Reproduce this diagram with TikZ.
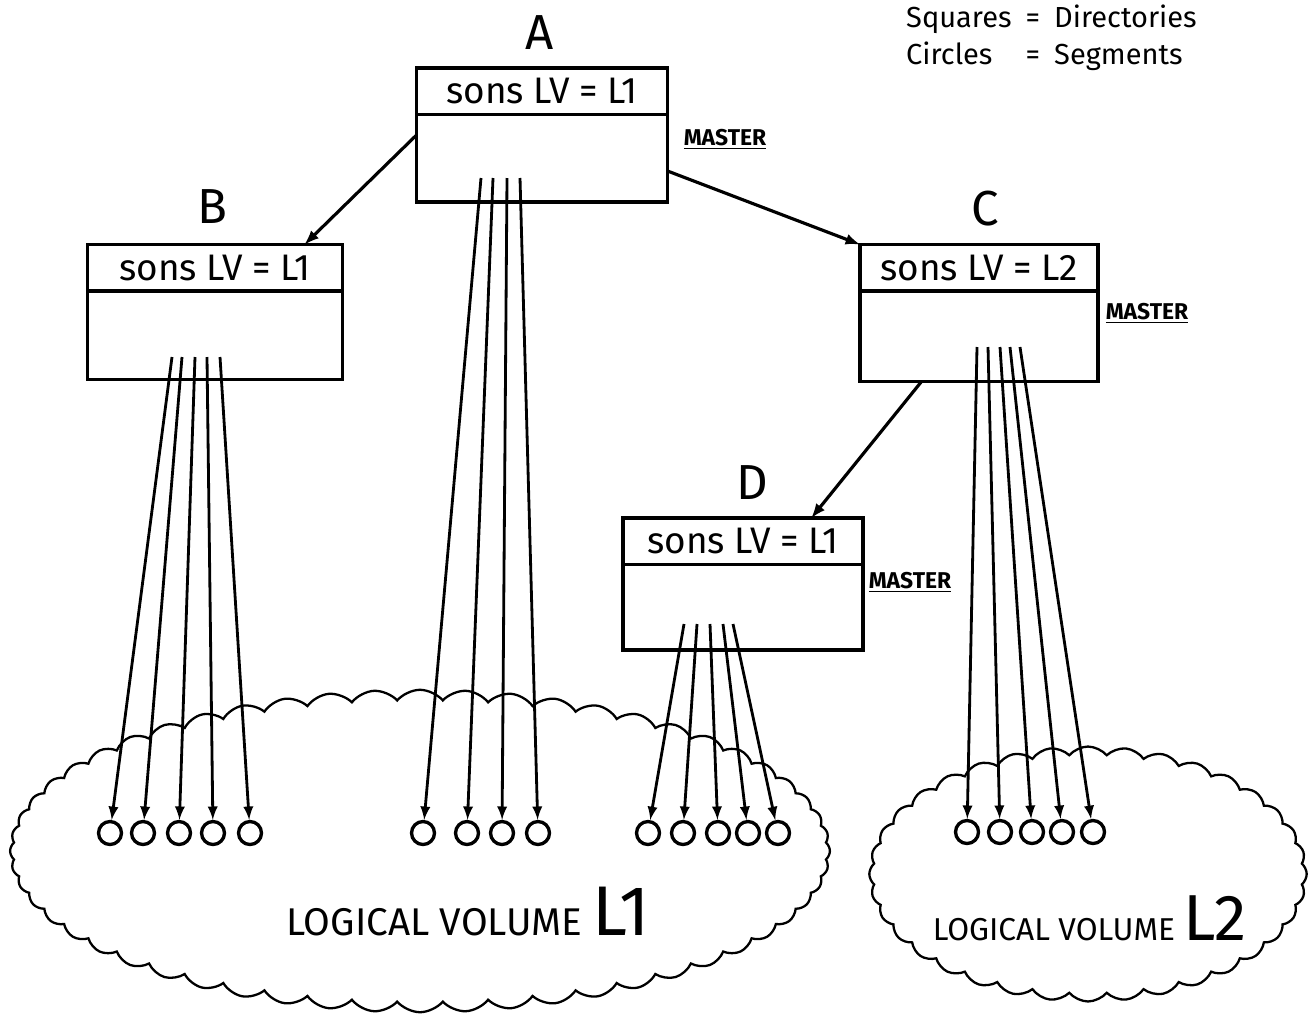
\documentclass[tikz,border=0pt]{standalone}
\usepackage{fontspec}
\setmainfont{Fira Sans}
\usetikzlibrary{arrows,shapes.symbols}

\begin{document}
\begin{tikzpicture}[x=0.02cm,y=-0.02cm,
  dir/.style={draw,line width=2pt,outer sep=0pt,inner sep=0pt},
  head/.style={anchor=north,inner sep=0pt,minimum height=0.92cm,
    font=\fontsize{21}{23}\selectfont},
  tag/.style={font=\fontsize{28}{32}\selectfont},
  master/.style={font=\fontsize{13}{15}\selectfont\bfseries},
  seg/.style={draw,circle,line width=1.9pt,minimum size=0.46cm,inner sep=0pt},
  fan/.style={line width=1.6pt,-latex},
  link/.style={line width=1.8pt,-latex},
  lv/.style={draw,cloud,line width=1.3pt,cloud puff arc=100}]
  \useasboundingbox (0,0) rectangle (1311,1018);
  % logical volumes
  \node[lv,cloud puffs=56,minimum width=16.4cm,minimum height=6.45cm] (lv1) at (420,851) {};
  \node[lv,cloud puffs=36,minimum width=8.75cm,minimum height=5.1cm] (lv2) at (1088,874) {};
  \node (lv1-text) at (468,912) {\fontsize{22}{24}\selectfont LOGICAL VOLUME \fontsize{40}{44}\selectfont L1};
  \node (lv2-text) at (1090,918) {\fontsize{18}{20}\selectfont LOGICAL VOLUME \fontsize{37}{40}\selectfont L2};
  % legend
  \node[anchor=west,font=\fontsize{16.5}{21}\selectfont] (legend) at (900,39)
    {\begin{tabular}{@{}l@{\hspace{8pt}}c@{\hspace{8pt}}l@{}}
      Squares & = & Directories\\
      Circles & = & Segments
    \end{tabular}};
  % directories
  \node[dir,minimum width=5.02cm,minimum height=2.68cm] (A) at (542,135) {};
  \node[dir,minimum width=5.1cm,minimum height=2.7cm] (B) at (215,312) {};
  \node[dir,minimum width=4.76cm,minimum height=2.74cm] (C) at (979,313) {};
  \node[dir,minimum width=4.8cm,minimum height=2.64cm] (D) at (743,584) {};
  \foreach \n/\w/\t in {A/5.02cm/L1,B/5.1cm/L1,C/4.76cm/L2,D/4.8cm/L1} {
    \node[head,minimum width=\w] (\n-top) at (\n.north) {sons LV = \t};
    \draw[line width=2pt] (\n-top.south west) -- (\n-top.south east);
  }
  \node[tag] (A-name) at (540,33) {A};
  \node[tag] (B-name) at (212,207) {B};
  \node[tag] (C-name) at (985,209) {C};
  \node[tag] (D-name) at (752,483) {D};
  \node[master] (A-master) at (725,139) {\underline{MASTER}};
  \node[master] (C-master) at (1147,313) {\underline{MASTER}};
  \node[master] (D-master) at (910,582) {\underline{MASTER}};
  % links between directories
  \draw[link] (A.west) -- (B.37);
  \draw[link] (A.-16) -- (C.north west);
  \draw[link] (C.230) -- (D.44);
  % segments
  \foreach \s/\e [count=\i] in {172/110,182/143,195/179,207/213,220/250} {
    \coordinate (B-o\i) at (\s,357);
    \node[seg] (b\i) at (\e,833) {};
    \draw[fan] (B-o\i) -- (b\i);
  }
  \foreach \s/\e [count=\i] in {481/423,493/467,507/502,520/538} {
    \coordinate (A-o\i) at (\s,178);
    \node[seg] (a\i) at (\e,833) {};
    \draw[fan] (A-o\i) -- (a\i);
  }
  \foreach \s/\e [count=\i] in {684/648,697/683,710/718,723/748,733/778} {
    \coordinate (D-o\i) at (\s,624);
    \node[seg] (d\i) at (\e,833) {};
    \draw[fan] (D-o\i) -- (d\i);
  }
  \foreach \s/\e [count=\i] in {977/967,988/1000,1000/1032,1010/1062,1020/1093} {
    \coordinate (C-o\i) at (\s,347);
    \node[seg] (c\i) at (\e,832) {};
    \draw[fan] (C-o\i) -- (c\i);
  }
\end{tikzpicture}
\end{document}
